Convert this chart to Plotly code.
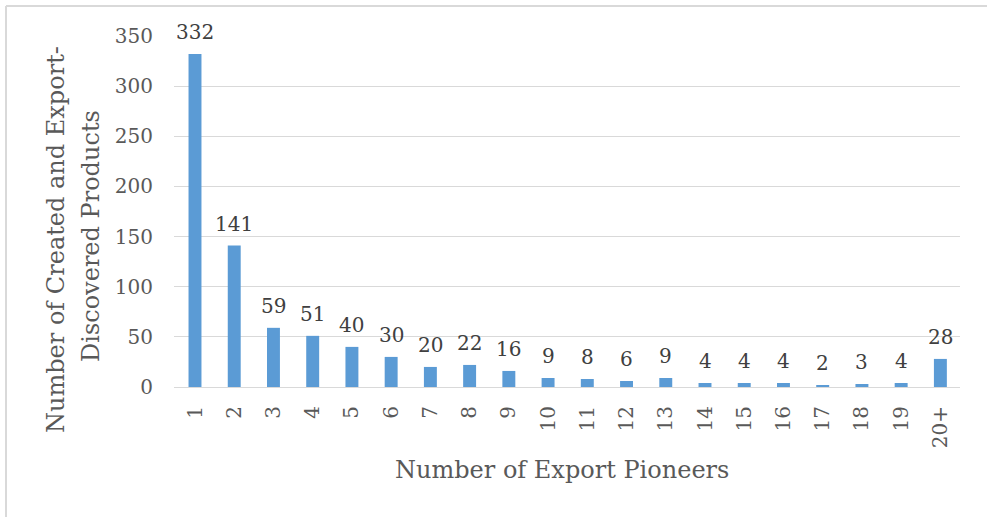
import plotly.graph_objects as go

categories = ["1", "2", "3", "4", "5", "6", "7", "8", "9", "10",
              "11", "12", "13", "14", "15", "16", "17", "18", "19", "20+"]
values = [332, 141, 59, 51, 40, 30, 20, 22, 16, 9,
          8, 6, 9, 4, 4, 4, 2, 3, 4, 28]
y_ticks = [0, 50, 100, 150, 200, 250, 300, 350]

FONT = "DejaVu Serif"
L, R, T, B = 174, 27, 36, 130
W, H = 987, 517
pw = W - L - R
ph = H - T - B


def px2x(px):
    return (px - L) / pw


def py2y(py):
    return (H - B - py) / ph


fig = go.Figure(go.Bar(
    x=categories, y=values,
    marker=dict(color="#5B9BD5", line=dict(width=0)),
    cliponaxis=False,
    hoverinfo="x+y",
))

annotations = []
for i, v in enumerate(values):
    # x as category index on the category axis
    annotations.append(dict(
        x=i, y=v, xref="x", yref="y", text=str(v), showarrow=False,
        yanchor="bottom", yshift=8,
        font=dict(family=FONT, size=20, color="#404040"),
    ))

# axis titles placed as annotations for exact positioning
annotations.append(dict(
    x=px2x(562), y=py2y(470), xref="paper", yref="paper",
    text="Number of Export Pioneers", showarrow=False,
    xanchor="center", yanchor="middle",
    font=dict(family=FONT, size=24, color="#595959"),
))
annotations.append(dict(
    x=px2x(56), y=py2y(240), xref="paper", yref="paper",
    text="Number of Created and Export-", showarrow=False, textangle=-90,
    xanchor="center", yanchor="middle",
    font=dict(family=FONT, size=24, color="#595959"),
))
annotations.append(dict(
    x=px2x(91), y=py2y(236), xref="paper", yref="paper",
    text="Discovered Products", showarrow=False, textangle=-90,
    xanchor="center", yanchor="middle",
    font=dict(family=FONT, size=24, color="#595959"),
))

fig.update_layout(
    width=W, height=H,
    margin=dict(l=L, r=R, t=T, b=B),
    paper_bgcolor="white", plot_bgcolor="white",
    bargap=0.67,
    showlegend=False,
    font=dict(family=FONT, color="#595959"),
    xaxis=dict(
        type="category",
        tickangle=-90,
        tickfont=dict(family=FONT, size=20, color="#595959"),
        showgrid=False,
        showline=True, linecolor="#d9d9d9", linewidth=1,
        ticks="",
        ticklabelstandoff=10,
    ),
    yaxis=dict(
        range=[0, 350],
        tickvals=y_ticks,
        tickfont=dict(family=FONT, size=20, color="#595959"),
        showgrid=True, gridcolor="#d9d9d9", gridwidth=1,
        zeroline=False,
        ticks="",
        ticklabelstandoff=20,
    ),
    annotations=annotations,
    shapes=[
        dict(type="line", xref="paper", yref="paper",
             x0=px2x(6), x1=px2x(987), y0=py2y(6), y1=py2y(6),
             line=dict(color="#d9d9d9", width=2)),
        dict(type="line", xref="paper", yref="paper",
             x0=px2x(6), x1=px2x(6), y0=py2y(6), y1=py2y(517),
             line=dict(color="#d9d9d9", width=2)),
    ],
)

fig.write_html("out.html",
               config={"displayModeBar": False},
               post_script="document.body.style.margin='0px';document.body.style.overflow='hidden';")
